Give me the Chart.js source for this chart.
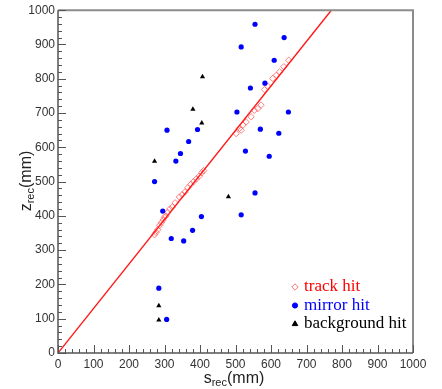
<!DOCTYPE html>
<html>
<head>
<meta charset="utf-8">
<script src="https://cdn.jsdelivr.net/npm/chart.js@4.4.1/dist/chart.umd.min.js"></script>
<style>
  body { margin: 0; background: #fff; }
  canvas { display: block; }
</style>
</head>
<body>
<canvas id="hitChart" width="442" height="389"></canvas>
<script>
// track hits (open diamonds)
const trackS = [272, 276, 281, 286, 291, 296, 300, 304, 309, 315, 322, 330, 342, 350, 358, 366, 374, 382, 390, 398, 405, 410,
                502, 511, 516, 521, 530, 544, 553, 563, 572, 582, 591, 605, 615, 624, 636, 650];
const trackZ = [345, 352, 360, 372, 380, 388, 396, 400, 410, 420, 426, 438, 455, 462, 470, 482, 492, 500, 508, 516, 526, 532,
                640, 655, 650, 665, 674, 689, 708, 713, 723, 768, 778, 801, 810, 820, 835, 854];

// mirror hits (blue dots)
const mirrorS = [272, 307, 332, 345, 368, 393, 295, 319, 354, 379, 404, 284, 306,
                 555, 637, 516, 609, 583, 542, 504, 649, 570, 622, 528, 595, 555, 516];
const mirrorZ = [500, 650, 560, 582, 617, 652, 414, 334, 327, 358, 398, 189, 98,
                 959, 920, 893, 854, 787, 773, 703, 703, 653, 641, 589, 574, 467, 403];

// background hits (black triangles)
const bgS = [272, 407, 380, 405, 284, 284, 480];
const bgZ = [559, 806, 711, 671, 138, 96, 456];

// fitted track line
const fitS = [0, 770];
const fitZ = [0, 1000];

const toPoints = (xs, ys) => xs.map((v, i) => ({ x: v, y: ys[i] }));

const legendItems = [
    { text: 'track hit', color: '#ff0000', style: 'rectRot', fill: false, mark: '#ff7070', r: 3.2 },
    { text: 'mirror hit', color: '#0000ff', style: 'circle', fill: true, mark: '#0000ff', r: 2.6 },
    { text: 'background hit', color: '#000000', style: 'triangle', fill: true, mark: '#000000', r: 3.2 }
];

// frame, inward ticks, axis titles and legend
const framePlugin = {
    id: 'frame',
    afterDraw(chart) {
        const { ctx, chartArea: a, scales: { x, y } } = chart;
        ctx.save();

        ctx.strokeStyle = '#8c8c8c';
        ctx.lineWidth = 2;
        ctx.beginPath();
        ctx.moveTo(a.left, a.top);
        ctx.lineTo(a.right, a.top);
        ctx.lineTo(a.right, a.bottom);
        ctx.stroke();

        ctx.strokeStyle = '#555';
        ctx.lineWidth = 1.5;
        ctx.beginPath();
        ctx.moveTo(a.left, a.top);
        ctx.lineTo(a.left, a.bottom);
        ctx.lineTo(a.right, a.bottom);
        ctx.stroke();

        ctx.lineWidth = 1;
        ctx.beginPath();
        for (let v = 0; v <= 1000; v += 20) {
            const len = v % 100 === 0 ? 8 : 4;
            const px = Math.round(x.getPixelForValue(v)) + 0.5;
            ctx.moveTo(px, a.bottom);
            ctx.lineTo(px, a.bottom - len);
            const py = Math.round(y.getPixelForValue(v)) + 0.5;
            ctx.moveTo(a.left, py);
            ctx.lineTo(a.left + len, py);
        }
        ctx.stroke();

        // axis titles with subscript
        const big = '16px "Liberation Sans", Arial, sans-serif';
        const small = '11px "Liberation Sans", Arial, sans-serif';
        function title(base, sub, tail, cx, baseY) {
            ctx.font = big;
            const w1 = ctx.measureText(base).width;
            const w3 = ctx.measureText(tail).width;
            ctx.font = small;
            const w2 = ctx.measureText(sub).width;
            let sx = cx - (w1 + w2 + w3) / 2;
            ctx.textAlign = 'left';
            ctx.textBaseline = 'alphabetic';
            ctx.fillStyle = '#222';
            ctx.font = big;
            ctx.fillText(base, sx, baseY);
            ctx.font = small;
            ctx.fillText(sub, sx + w1, baseY + 3);
            ctx.font = big;
            ctx.fillText(tail, sx + w1 + w2, baseY);
        }
        title('s', 'rec', '(mm)', 234, 383);
        ctx.save();
        ctx.translate(31, 0);
        ctx.rotate(-Math.PI / 2);
        title('z', 'rec', '(mm)', -181, 0);
        ctx.restore();

        // legend
        ctx.font = '17px "Liberation Serif", "Times New Roman", serif';
        ctx.textBaseline = 'middle';
        legendItems.forEach((it, i) => {
            const ly = 287 + i * 18.5;
            ctx.fillStyle = it.fill ? it.mark : 'rgba(0,0,0,0)';
            ctx.strokeStyle = it.mark;
            ctx.lineWidth = 1;
            Chart.helpers.drawPoint(ctx, { pointStyle: it.style, radius: it.r, rotation: 0, borderWidth: 1 }, 295, ly);
            ctx.fillStyle = it.color;
            ctx.fillText(it.text, 304, ly);
        });

        ctx.restore();
    }
};

const tickFont = { family: '"Liberation Sans", Arial, sans-serif', size: 12 };
const plainLabel = v => String(v);

new Chart(document.getElementById('hitChart'), {
    type: 'scatter',
    data: {
        datasets: [{
            label: 'track hit',
            data: toPoints(trackS, trackZ),
            pointStyle: 'rectRot',
            pointRadius: 3.2,
            pointBorderWidth: 1,
            borderColor: 'rgba(255, 90, 90, 0.75)',
            backgroundColor: 'rgba(0,0,0,0)',
            order: 2
        }, {
            label: 'fit',
            data: toPoints(fitS, fitZ),
            showLine: true,
            pointRadius: 0,
            borderColor: '#ff1a1a',
            borderWidth: 1.4,
            order: 1
        }, {
            label: 'mirror hit',
            data: toPoints(mirrorS, mirrorZ),
            pointStyle: 'circle',
            pointRadius: 2.6,
            pointBorderWidth: 0,
            backgroundColor: '#0000ff',
            borderColor: '#0000ff',
            order: 0
        }, {
            label: 'background hit',
            data: toPoints(bgS, bgZ),
            pointStyle: 'triangle',
            pointRadius: 3,
            pointBorderWidth: 0,
            backgroundColor: '#000',
            borderColor: '#000',
            order: 0
        }]
    },
    options: {
        responsive: false,
        animation: false,
        layout: { padding: { top: 10, right: 29, left: 0, bottom: 0 } },
        plugins: { legend: { display: false }, tooltip: { enabled: false } },
        scales: {
            x: {
                type: 'linear',
                min: 0,
                max: 1000,
                grid: { display: false, drawTicks: false },
                border: { display: false },
                ticks: { stepSize: 100, font: tickFont, color: '#333', padding: 4, maxRotation: 0, autoSkip: false, callback: plainLabel },
                afterFit: s => { s.height = 36; }
            },
            y: {
                type: 'linear',
                min: 0,
                max: 1000,
                grid: { display: false, drawTicks: false },
                border: { display: false },
                ticks: { stepSize: 100, font: tickFont, color: '#333', padding: 3, autoSkip: false, callback: plainLabel },
                afterFit: s => { s.width = 58; }
            }
        }
    },
    plugins: [framePlugin]
});
</script>
</body>
</html>
